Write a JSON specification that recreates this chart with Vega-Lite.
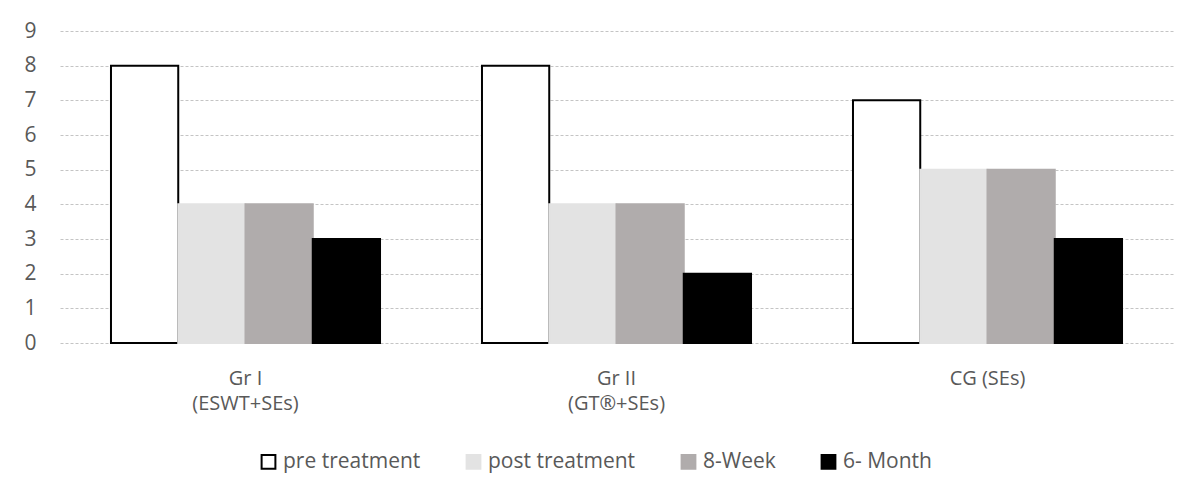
{
  "$schema": "https://vega.github.io/schema/vega-lite/v6.json",
  "width": 1113,
  "height": 312,
  "padding": {"left": 23, "top": 20, "right": 16, "bottom": 5},
  "background": "white",
  "config": {
    "font": "Open Sans",
    "view": {"stroke": null},
    "axis": {"labelFont": "Open Sans", "labelColor": "#595959", "labelFontSize": 21}
  },
  "data": {
    "values": [
      {"group": "Gr I|(ESWT+SEs)", "series": "pre treatment", "value": 8},
      {"group": "Gr I|(ESWT+SEs)", "series": "post treatment", "value": 4},
      {"group": "Gr I|(ESWT+SEs)", "series": "8-Week", "value": 4},
      {"group": "Gr I|(ESWT+SEs)", "series": "6- Month", "value": 3},
      {"group": "Gr II|(GT®+SEs)", "series": "pre treatment", "value": 8},
      {"group": "Gr II|(GT®+SEs)", "series": "post treatment", "value": 4},
      {"group": "Gr II|(GT®+SEs)", "series": "8-Week", "value": 4},
      {"group": "Gr II|(GT®+SEs)", "series": "6- Month", "value": 2},
      {"group": "CG (SEs)", "series": "pre treatment", "value": 7},
      {"group": "CG (SEs)", "series": "post treatment", "value": 5},
      {"group": "CG (SEs)", "series": "8-Week", "value": 5},
      {"group": "CG (SEs)", "series": "6- Month", "value": 3}
    ]
  },
  "mark": {"type": "bar", "strokeWidth": 2},
  "encoding": {
    "x": {
      "field": "group",
      "type": "nominal",
      "sort": null,
      "scale": {"paddingInner": 0, "paddingOuter": 0},
      "axis": {
        "title": null,
        "labelAngle": 0,
        "ticks": false,
        "domain": false,
        "labelPadding": 25,
        "labelLineHeight": 25,
        "labelFontSize": 20,
        "labelExpr": "split(datum.label, '|')"
      }
    },
    "xOffset": {
      "field": "series",
      "type": "nominal",
      "sort": ["pre treatment", "post treatment", "8-Week", "6- Month"],
      "scale": {"paddingInner": 0, "paddingOuter": 0.758}
    },
    "y": {
      "field": "value",
      "type": "quantitative",
      "scale": {"domain": [0, 9]},
      "axis": {
        "title": null,
        "values": [0,1,2,3,4,5,6,7,8,9],
        "labelOverlap": false,
        "ticks": false,
        "domain": false,
        "labelPadding": 24,
        "gridColor": "#c4c4c4",
        "gridDash": [3, 2],
        "gridWidth": 1
      }
    },
    "fill": {
      "field": "series",
      "type": "nominal",
      "sort": ["pre treatment", "post treatment", "8-Week", "6- Month"],
      "scale": {"domain": ["pre treatment", "post treatment", "8-Week", "6- Month"], "range": ["#ffffff", "#e3e3e3", "#b0acac", "#000000"]},
      "legend": {
        "title": null,
        "orient": "none",
        "legendX": 198,
        "legendY": 420,
        "direction": "horizontal",
        "symbolType": "square",
        "symbolSize": 190,
        "symbolStrokeWidth": 2,
        "labelFontSize": 21,
        "labelOffset": 4,
        "labelColor": "#595959",
        "labelFont": "Open Sans",
        "columnPadding": 41
      }
    },
    "stroke": {
      "field": "series",
      "type": "nominal",
      "sort": ["pre treatment", "post treatment", "8-Week", "6- Month"],
      "scale": {"domain": ["pre treatment", "post treatment", "8-Week", "6- Month"], "range": ["#000000", "#e3e3e3", "#b0acac", "#000000"]},
      "legend": {
        "title": null,
        "orient": "none",
        "legendX": 198,
        "legendY": 420,
        "direction": "horizontal",
        "symbolType": "square",
        "symbolSize": 190,
        "symbolStrokeWidth": 2,
        "labelFontSize": 21,
        "labelOffset": 4,
        "labelColor": "#595959",
        "labelFont": "Open Sans",
        "columnPadding": 41
      }
    }
  }
}
